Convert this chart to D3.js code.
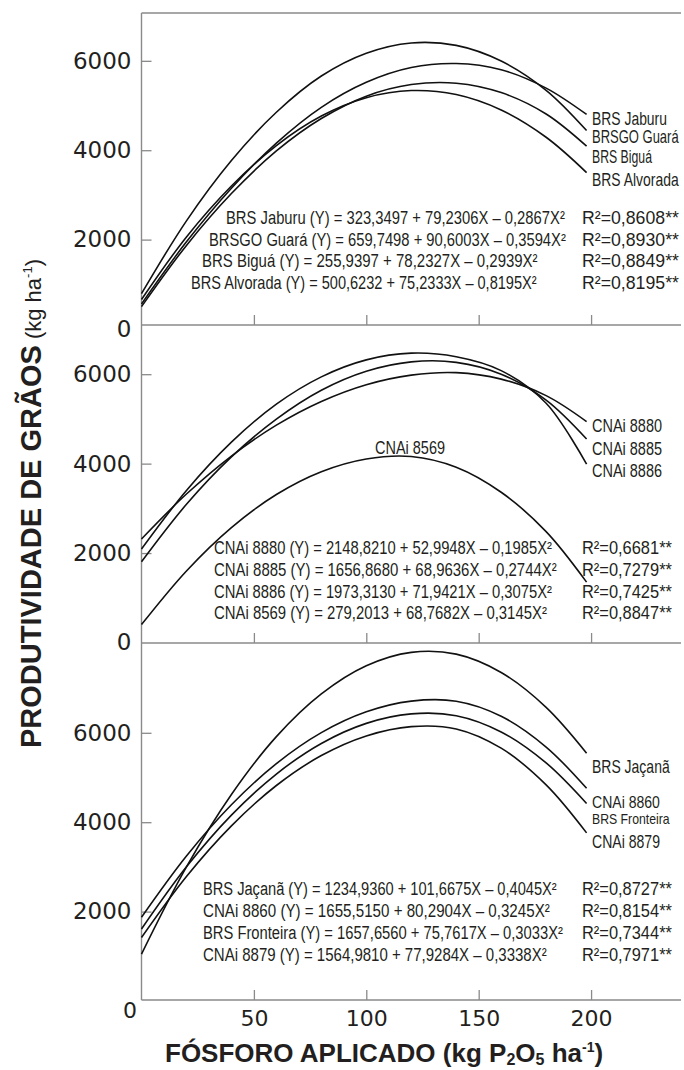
<!DOCTYPE html>
<html><head><meta charset="utf-8">
<script src="https://cdn.jsdelivr.net/npm/d3@7/dist/d3.min.js"></script>
<style>body{margin:0;background:#fff}svg{display:block}</style>
</head><body>
<svg id="chart" width="684" height="1070"></svg>
<script>
// ---------------- DATA ----------------
const doses = [0, 20, 40, 60, 80, 100, 120, 140, 160, 180, 198];

// Panel 1
const p1Names = ["BRS Jaburu", "BRSGO Guará", "BRS Biguá", "BRS Alvorada"];
const p1Jaburu   = [560, 1950, 3150, 4160, 4960, 5520, 5850, 5940, 5800, 5390, 4800];
const p1Guara    = [790, 2420, 3770, 4850, 5660, 6170, 6400, 6345, 5995, 5340, 4440];
const p1Bigua    = [500, 1870, 3030, 3985, 4710, 5210, 5470, 5500, 5290, 4810, 4090];
const p1Alvorada = [660, 2060, 3200, 4105, 4765, 5175, 5335, 5245, 4900, 4290, 3500];
const p1Equations = [
  "BRS Jaburu (Y) = 323,3497 + 79,2306X – 0,2867X²",
  "BRSGO Guará (Y) = 659,7498 + 90,6003X – 0,3594X²",
  "BRS Biguá (Y) = 255,9397 + 78,2327X – 0,2939X²",
  "BRS Alvorada (Y) = 500,6232 + 75,2333X – 0,8195X²"];
const p1R2 = ["R²=0,8608**", "R²=0,8930**", "R²=0,8849**", "R²=0,8195**"];

// Panel 2
const p2Names = ["CNAi 8880", "CNAi 8885", "CNAi 8886", "CNAi 8569"];
const p2C8880 = [2315, 3320, 4170, 4860, 5390, 5765, 5980, 6035, 5890, 5520, 4940];
const p2C8885 = [1805, 3090, 4150, 4995, 5640, 6065, 6275, 6265, 6000, 5420, 4550];
const p2C8886 = [2090, 3400, 4480, 5330, 5940, 6320, 6470, 6390, 6080, 5350, 3990];
const p2C8569 = [400, 1600, 2570, 3310, 3820, 4105, 4160, 3920, 3360, 2480, 1350];
const p2Equations = [
  "CNAi 8880 (Y) = 2148,8210 + 52,9948X – 0,1985X²",
  "CNAi 8885 (Y) = 1656,8680 + 68,9636X – 0,2744X²",
  "CNAi 8886 (Y) = 1973,3130 + 71,9421X – 0,3075X²",
  "CNAi 8569 (Y) = 279,2013 + 68,7682X – 0,3145X²"];
const p2R2 = ["R²=0,6681**", "R²=0,7279**", "R²=0,7425**", "R²=0,8847**"];

// Panel 3
const p3Names = ["BRS Jaçanã", "CNAi 8860", "BRS Fronteira", "CNAi 8879"];
const p3Jacana    = [1050, 3000, 4620, 5915, 6870, 7500, 7800, 7760, 7350, 6570, 5545];
const p3C8860     = [1873, 3243, 4390, 5310, 6003, 6469, 6708, 6706, 6370, 5681, 4758];
const p3Fronteira = [1611, 3001, 4158, 5078, 5762, 6211, 6423, 6383, 6019, 5325, 4418];
const p3C8879     = [1422, 2786, 3919, 4821, 5491, 5930, 6139, 6087, 5656, 4835, 3761];
const p3Equations = [
  "BRS Jaçanã (Y) = 1234,9360 + 101,6675X – 0,4045X²",
  "CNAi 8860 (Y) = 1655,5150 + 80,2904X – 0,3245X²",
  "BRS Fronteira (Y) = 1657,6560 + 75,7617X – 0,3033X²",
  "CNAi 8879 (Y) = 1564,9810 + 77,9284X – 0,3338X²"];
const p3R2 = ["R²=0,8727**", "R²=0,8154**", "R²=0,7344**", "R²=0,7971**"];

const yTickValues = [0, 2000, 4000, 6000];
const xTickValues = [50, 100, 150, 200];
const xTitle = "FÓSFORO APLICADO";
const yTitle = "PRODUTIVIDADE DE GRÃOS";

// ---------------- LAYOUT ----------------
const svg = d3.select("#chart");
const ink = "#231f20", axisCol = "#8a8a8a";
const narrowFont = "'Liberation Sans',Arial,sans-serif";
const x = d3.scaleLinear().domain([0, 240]).range([141.5, 681]);

const panels = [
  { series: [p1Jaburu, p1Guara, p1Bigua, p1Alvorada], names: p1Names, eq: p1Equations, r2: p1R2,
    ymax: 7070, y0: 329, ytop: 13, bottom: 325,
    eqStart: [226, 209, 202, 191], eqEnd: [565, 566, 538, 537], eqRows: [218, 239.5, 261, 283], r2End: 679,
    labels: [{y: 118.3, w: 75}, {y: 137, w: 86.7}, {y: 157, w: 60}, {y: 180, w: 86.7}],
    yTicks: yTickValues },
  { series: [p2C8880, p2C8885, p2C8886, p2C8569], names: p2Names, eq: p2Equations, r2: p2R2,
    ymax: 7100, y0: 642.5, ytop: 325, bottom: 643,
    eqStart: [214, 214, 214, 214], eqEnd: [552, 557, 552, 547], eqRows: [548, 570, 591.5, 613], r2End: 672,
    labels: [{y: 426, w: 70}, {y: 448.3, w: 70}, {y: 470.7, w: 70}, {y: 447.3, w: 70, x: 375}],
    yTicks: yTickValues },
  { series: [p3Jacana, p3C8860, p3Fronteira, p3C8879], names: p3Names, eq: p3Equations, r2: p3R2,
    ymax: 8000, y0: 1001, ytop: 643.4, bottom: 1000,
    eqStart: [203, 203, 203, 203], eqEnd: [557, 550, 563, 547], eqRows: [889, 911, 932.5, 955], r2End: 672,
    labels: [{y: 766.7, w: 77.7}, {y: 802, w: 68, fs: 17}, {y: 819, w: 77.7, fs: 14}, {y: 841.7, w: 68}],
    yTicks: yTickValues.slice(1) }
];

// frame: left line and top line
svg.append("line").attr("x1", 141.5).attr("x2", 141.5).attr("y1", 13).attr("y2", 1000)
  .attr("stroke", axisCol).attr("stroke-width", 1.4);
svg.append("line").attr("x1", 141.5).attr("x2", 681).attr("y1", 13).attr("y2", 13)
  .attr("stroke", axisCol).attr("stroke-width", 1.4);

// condensed text: natural text squeezed horizontally to the measured width
function condText(g, str, xs, xe, yc, fs) {
  const t = g.append("text").attr("x", 0).attr("y", 0)
    .attr("font-family", narrowFont).attr("font-size", fs).attr("fill", ink).text(str);
  const w = t.node().getComputedTextLength();
  t.attr("transform", `translate(${xs},${yc + 0.36 * fs}) scale(${(xe - xs) / w},1)`);
  return t;
}

panels.forEach((p, pi) => {
  const y = d3.scaleLinear().domain([0, p.ymax]).range([p.y0, p.ytop]);
  const g = svg.append("g");

  // x axis (ticks pointing up)
  const xa = d3.axisBottom(x).tickValues(xTickValues).tickSizeInner(-10).tickSizeOuter(0).tickPadding(10);
  const xg = g.append("g").attr("transform", `translate(0,${p.bottom})`).call(xa);
  xg.select(".domain").remove();
  xg.selectAll(".tick line").attr("stroke", axisCol).attr("stroke-width", 1.3);
  if (pi < 2) xg.selectAll(".tick text").remove();
  else xg.selectAll(".tick text").attr("font-family", "'DejaVu Sans',sans-serif").attr("font-size", 22).attr("fill", ink);
  g.append("line").attr("x1", 141.5).attr("x2", 681).attr("y1", p.bottom).attr("y2", p.bottom)
    .attr("stroke", axisCol).attr("stroke-width", 1.4);

  // y axis
  const ya = d3.axisLeft(y).tickValues(p.yTicks).tickSizeInner(-10).tickSizeOuter(0).tickPadding(10)
    .tickFormat(d3.format("d"));
  const yg = g.append("g").attr("transform", "translate(141.5,0)").call(ya);
  yg.select(".domain").remove();
  yg.selectAll(".tick line").attr("stroke", axisCol).attr("stroke-width", 1.3)
    .filter(d => d === 0).remove();
  yg.selectAll(".tick text").attr("font-family", "'DejaVu Sans',sans-serif").attr("font-size", 23).attr("fill", ink);

  // curves
  const line = d3.line().x((d, i) => x(doses[i])).y(d => y(d)).curve(d3.curveCatmullRom.alpha(0.5));
  p.series.forEach(s => {
    g.append("path").attr("d", line(s)).attr("fill", "none").attr("stroke", "#111").attr("stroke-width", 1.6);
  });

  // curve labels
  p.names.forEach((n, i) => {
    const L = p.labels[i];
    const xs = L.x !== undefined ? L.x : 592;
    condText(g, n, xs, xs + L.w, L.y, L.fs || 18);
  });

  // equations and R²
  p.eq.forEach((e, i) => {
    condText(g, e, p.eqStart[i], p.eqEnd[i], p.eqRows[i], 18);
    condText(g, p.r2[i], 582, p.r2End, p.eqRows[i], 18);
  });
});

// x-axis "0" label
svg.append("text").attr("x", 137).attr("y", 1018).attr("text-anchor", "end")
  .attr("font-family", "'DejaVu Sans',sans-serif").attr("font-size", 22).attr("fill", ink).text("0");

// x title
const xt = svg.append("text").attr("x", 165).attr("y", 1062)
  .attr("font-family", "'Liberation Sans',Arial,sans-serif").attr("font-weight", "bold")
  .attr("font-size", 26).attr("fill", ink);
xt.append("tspan").text(xTitle + " (kg P");
xt.append("tspan").attr("font-size", 16).attr("dy", 3).text("2");
xt.append("tspan").attr("dy", -3).text("O");
xt.append("tspan").attr("font-size", 16).attr("dy", 3).text("5");
xt.append("tspan").attr("dy", -3).text(" ha");
xt.append("tspan").attr("font-size", 14).attr("dy", -10).text("-1");
xt.append("tspan").attr("dy", 10).text(")");

// y title
const yt = svg.append("text").attr("transform", "translate(41,748) rotate(-90)")
  .attr("font-family", "'Liberation Sans',Arial,sans-serif").attr("fill", ink);
yt.append("tspan").attr("font-weight", "bold").attr("font-size", 29).text(yTitle);
yt.append("tspan").attr("font-size", 22).text(" (kg ha");
yt.append("tspan").attr("font-size", 13).attr("dy", -9).text("-1");
yt.append("tspan").attr("font-size", 22).attr("dy", 9).text(")");
</script>
</body></html>
